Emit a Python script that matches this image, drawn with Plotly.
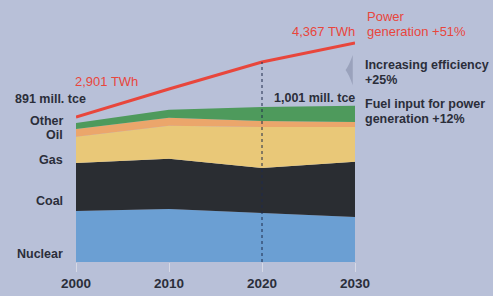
import plotly.graph_objects as go

years = [2000, 2010, 2020, 2030]
nuclear = [327, 340, 314, 289]
coal = [308, 321, 289, 353]
gas = [167, 212, 263, 224]
oil = [51, 51, 38, 32]
other = [38, 51, 90, 103]
power_twh = [2901, 3456, 3990, 4367]

series = [
    ("Nuclear", nuclear, "#6b9fd3"),
    ("Coal", coal, "#2a2d32"),
    ("Gas", gas, "#e9c878"),
    ("Oil", oil, "#eba66b"),
    ("Other", other, "#4e9a5c"),
]

BG = "#b8c0d8"
DARK = "#2b2e3a"
RED = "#e8463c"
FONT = "Liberation Sans"

fig = go.Figure()
for name, vals, col in series:
    fig.add_trace(go.Scatter(
        x=years, y=vals, name=name, stackgroup="fuel", mode="lines",
        line=dict(width=0, color=col), fillcolor=col, hoverinfo="skip"))

fig.add_trace(go.Scatter(
    x=years, y=power_twh, yaxis="y2", mode="lines",
    line=dict(color=RED, width=3), hoverinfo="skip", name="Power"))

fig.add_shape(type="line", x0=2020, x1=2020, xref="x", y0=29, y1=power_twh[2],
              yref="y2", line=dict(color="#1f2a4a", width=1, dash="dot"))

# arrow wedge
fig.add_shape(type="path", xref="paper", yref="paper",
              path="M 0.992 0.855 Q 0.978 0.81 0.966 0.793 Q 0.978 0.776 0.992 0.73 Z",
              fillcolor="#9aa2bc", line=dict(width=0))

fig.update_layout(
    width=493, height=296,
    margin=dict(l=76, r=138, t=20, b=34, autoexpand=False),
    paper_bgcolor=BG, plot_bgcolor=BG,
    showlegend=False,
    font=dict(family=FONT, size=12, color=DARK),
    xaxis=dict(range=[2000, 2030], tickvals=years, ticktext=[str(y) for y in years],
               showgrid=False, zeroline=False, showline=False, automargin=False,
               ticks="outside", ticklen=9, tickcolor="#d6d9e6", tickwidth=1,
               tickfont=dict(family=FONT, size=13.5, color=DARK, weight="bold")),
    yaxis=dict(range=[0, 1551], visible=False, automargin=False),
    yaxis2=dict(range=[29, 4823], overlaying="y", visible=False, automargin=False),
)

def ann(text, x, y, xanchor="left", color=DARK, size=12.5, weight="bold"):
    fig.add_annotation(text=text, x=x, y=y, xref="paper", yref="paper",
                       xanchor=xanchor, yanchor="middle", showarrow=False,
                       borderpad=0,
                       font=dict(family=FONT, size=size, color=color, weight=weight))

def py(p):
    return (262 - p) / 242.0

def px(p):
    return (p - 76) / 279.0

ann("Other", px(64), py(121), "right")
ann("Oil", px(64), py(135), "right")
ann("Gas", px(64), py(160), "right")
ann("Coal", px(64), py(201), "right")
ann("Nuclear", px(64), py(254), "right")
ann("891 mill. tce", px(14), py(99), "left")
ann("2,901 TWh", px(139), py(81), "right", color=RED, size=13, weight="normal")
ann("4,367 TWh", px(356), py(32), "right", color=RED, size=13, weight="normal")
ann("Power", px(366), py(17), "left", color=RED, size=13, weight="normal")
ann("generation +51%", px(366), py(32), "left", color=RED, size=13, weight="normal")
ann("Increasing efficiency", px(364), py(64.5), "left", size=12.5)
ann("+25%", px(364), py(79.5), "left", size=12.5)
ann("1,001 mill. tce", px(356), py(98), "right", size=12.5)
ann("Fuel input for power", px(364), py(104), "left", size=12.5)
ann("generation +12%", px(364), py(119), "left", size=12.5)

fig.write_html("out.html", config={"displayModeBar": False},
               post_script="document.body.style.margin='0px';document.body.style.background='%s';" % BG)
